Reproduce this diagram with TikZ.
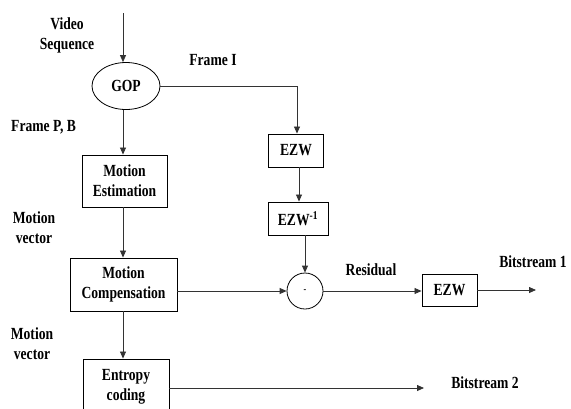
\documentclass[tikz,border=0pt]{standalone}
\usepackage{fontspec}
\setmainfont{Liberation Serif}[FakeStretch=0.8]
\usetikzlibrary{arrows.meta,shapes.geometric}
\begin{document}
\begin{tikzpicture}[x=1pt,y=-1pt,
  every node/.style={font=\fontsize{17}{20}\selectfont\bfseries, inner sep=0pt},
  blk/.style={draw, line width=0.9pt, align=center},
  lbl/.style={align=center},
  conn/.style={line width=0.8pt, draw=black!80},
  arr/.style={conn, -{Triangle[length=7pt,width=6pt]}}]
\useasboundingbox (0,0) rectangle (571,408);
\node[draw, ellipse, line width=0.8pt, minimum width=68pt, minimum height=47pt] (gop) at (126,86) {GOP};
\node[blk, minimum width=85pt, minimum height=52pt] (me) at (124.5,181) {Motion\\Estimation};
\node[blk, minimum width=107pt, minimum height=53pt] (mc) at (123.5,284.5) {Motion\\Compensation};
\node[blk, minimum width=86pt, minimum height=56pt] (ec) at (126,387) {Entropy\\coding};
\node[blk, minimum width=55pt, minimum height=33pt] (ezwa) at (296,150.5) {EZW};
\node[blk, minimum width=60pt, minimum height=33pt] (ezwi) at (298,218.5) {EZW\textsuperscript{-1}};
\node[draw, circle, line width=0.8pt, minimum size=36pt] (minus) at (305,291) {\fontsize{10}{10}\selectfont -};
\node[blk, minimum width=55pt, minimum height=32pt] (ezwb) at (449.5,290) {EZW};
\coordinate (vin) at (123,13);
\coordinate (b1) at (536,290);
\coordinate (b2) at (424,388);
\node[lbl] (vs) at (67,35) {Video\\Sequence};
\node[lbl] (fi) at (213,60) {Frame I};
\node[lbl, anchor=west] (fpb) at (11,127) {Frame P, B};
\node[lbl] (mv1) at (34,228) {Motion\\vector};
\node[lbl] (mv2) at (32,344) {Motion\\vector};
\node[lbl] (res) at (371,270) {Residual};
\node[lbl] (bs1) at (533,262) {Bitstream 1};
\node[lbl] (bs2) at (485,383) {Bitstream 2};
\draw[arr] (vin) -- (vin |- gop.north);
\draw[arr] (gop.east) -| (ezwa.north -| 297,0);
\draw[arr] (gop.south -| 123,0) -- (me.north -| 123,0);
\draw[arr] (me.south -| 123,0) -- (mc.north -| 123,0);
\draw[arr] (mc.south -| 123,0) -- (ec.north -| 123,0);
\draw[arr] (ezwa.south -| 299,0) -- (ezwi.north -| 299,0);
\draw[arr] (ezwi.south -| minus.north) -- (minus.north);
\draw[arr] (mc.east |- minus.west) -- (minus.west);
\draw[arr] (minus.east) -- (ezwb.west |- minus.east);
\draw[arr] (ezwb.east) -- (b1);
\draw[arr] (ec.east |- b2) -- (b2);
\end{tikzpicture}
\end{document}
